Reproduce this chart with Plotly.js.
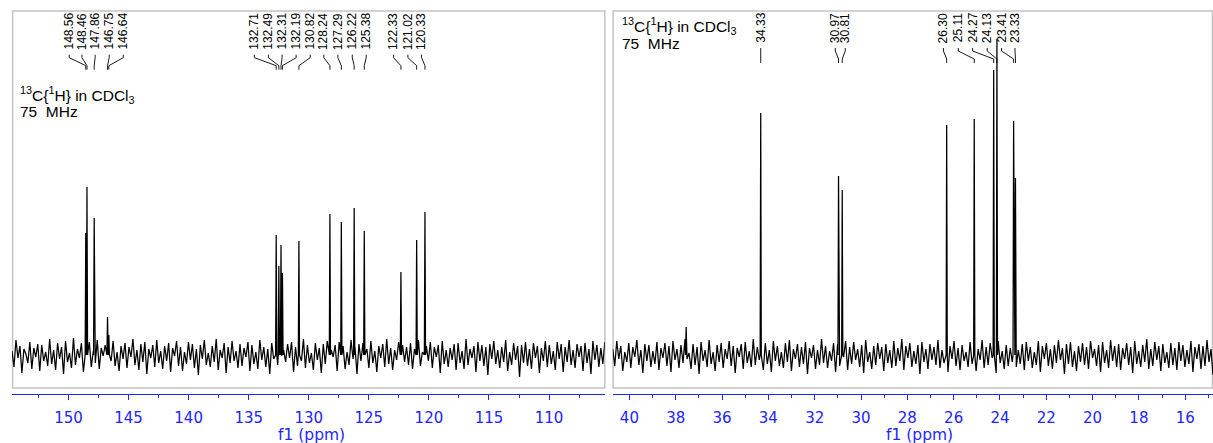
<!DOCTYPE html>
<html>
<head>
<meta charset="utf-8">
<script src="https://cdn.plot.ly/plotly-3.0.1.min.js"></script>
<style>
  html, body { margin: 0; padding: 0; background: #ffffff; }
  #chart { width: 1213px; height: 443px; }
</style>
</head>
<body>
<div id="chart"></div>
<script>
// ---------------- DATA ----------------
// Left panel (aromatic region), labelled peaks: chemical shift (ppm) and height
const LEFT_PPM    = [148.56, 148.46, 147.86, 146.75, 146.64, 132.71, 132.49, 132.31, 132.19, 130.82, 128.24, 127.29, 126.22, 125.38, 122.33, 121.02, 120.33];
const LEFT_HEIGHT = [122, 168, 137, 38, 20, 120, 89, 110, 82, 114, 141, 133, 147, 124, 83, 115, 143];

// Right panel (aliphatic region), labelled peaks
const RIGHT_PPM    = [34.33, 30.97, 30.81, 26.30, 25.11, 24.27, 24.13, 23.41, 23.33];
const RIGHT_HEIGHT = [242, 179, 165, 230, 236, 285, 316, 234, 177];

// Small unlabelled signal in the right panel
const RIGHT_EXTRA_PPM    = [37.55];
const RIGHT_EXTRA_HEIGHT = [28];

// Baseline noise (evenly spread across each panel)
const LEFT_NOISE = [
  4,-12,15,-3,9,-18,6,1,-8,13,-14,7,-2,11,-16,10,-6,3,-11,16,
  -9,5,-15,12,-4,8,-19,14,-7,2,-13,17,-10,6,-3,12,-17,9,-5,13,
  -12,4,-8,15,-14,7,-1,10,-18,11,-6,14,-11,3,-16,9,-4,12,-13,8,
  -2,16,-10,5,-15,11,-7,13,-19,6,-3,10,-12,15,-8,4,-14,9,-6,12,
  -17,7,-1,14,-11,8,-16,3,-9,13,-5,11,-13,6,-20,10,-4,15,-10,2,
  -12,9,-7,16,-15,5,-3,12,-18,8,-8,14,-6,4,-13,11,-11,7,-2,13,
  -16,10,-9,3,-14,15,-5,8,-12,6,-19,12,-4,9,-10,14,-15,5,-7,11,
  -3,13,-17,8,-11,4,-6,16,-13,10,-8,2,-15,12,-5,7,-18,11,-9,14,
  -12,5,-2,10,-16,13,-7,9,-14,3,-10,15,-4,8,-19,11,-6,12,-11,6,
  -13,14,-8,4,-17,9,-3,11,-12,16,-9,7,-15,5,-5,13,-21,10,-7,8,
  -10,12,-14,6,-4,15,-11,3,-16,9,-6,13,-13,8,-2,10,-18,14,-9,5,
  -12,7,-5,11,-15,12,-8,4,-14,16,-10,6,-3,9,-17,13,-6,10,-11,8,
  -20,11,-4,14,-9,5,-13,8,-7,15,-16,3,-10,12,-5,9,-22,10,-8,13,
  -11,6,-14,12,-3,9,-18,7,-6,14,-12,10,-9,4,-15,13,-4,11,-17,8,
  -7,15,-10,5,-13,11,-2,9,-16,12,-8,6,-19,14,-5,10,-12,7,-9,13
];
const RIGHT_NOISE = [
  6,-11,14,-4,9,-16,3,-7,12,-13,8,-2,15,-10,5,-18,11,-6,10,-12,
  4,-9,13,-15,7,-3,12,-11,9,-17,14,-5,6,-13,10,-8,16,-4,2,-14,
  11,-10,8,-19,13,-6,5,-12,15,-9,3,-16,10,-7,12,-13,6,-4,14,-11,
  9,-18,7,-2,11,-14,13,-8,4,-12,16,-10,8,-5,10,-15,12,-9,5,-17,
  14,-6,9,-11,3,-13,12,-7,15,-16,6,-4,11,-12,8,-9,13,-19,7,-3,
  10,-14,5,-10,16,-8,9,-13,4,-6,12,-17,11,-11,7,-2,14,-15,8,-9,
  13,-5,6,-12,10,-18,15,-7,3,-14,9,-10,12,-4,8,-16,11,-8,5,-13,
  14,-11,7,-6,16,-15,9,-3,12,-12,4,-9,10,-19,13,-7,6,-14,11,-5,
  8,-10,15,-13,5,-8,12,-17,9,-4,14,-11,7,-15,10,-6,3,-12,13,-9,
  11,-16,6,-5,15,-13,8,-10,12,-3,9,-18,14,-8,4,-14,10,-11,7,-7,
  16,-12,5,-9,11,-15,13,-6,8,-13,3,-10,14,-17,9,-4,12,-11,6,-14,
  10,-8,15,-5,7,-19,11,-9,13,-12,4,-16,9,-7,12,-10,8,-14,14,-3,
  6,-11,10,-17,13,-8,5,-13,15,-6,9,-12,11,-15,7,-4,12,-10,8,-18,
  14,-9,4,-12,10,-7,16,-14,6,-11,13,-5,9,-16,11,-8,3,-13,12,-10,
  7,-15,13,-6,10,-12,5,-9,14,-17,8,-4,11,-14,9,-11,15,-7,6,-20
];

// Tick / text content
const X_TITLE = 'f1 (ppm)';
const NUCLEUS_TEXT = '<sup>13</sup>C{<sup>1</sup>H} in CDCl<sub>3</sub>';
const FREQ_TEXT = '75  MHz';

// ---------------- LAYOUT CONSTANTS ----------------
const LEFT_RANGE  = [154.7, 105.36];
const RIGHT_RANGE = [40.72, 14.8];
// label anchor positions (ppm) for the multiplet labels at the top
const LEFT_LABEL_POS  = [149.94, 148.88, 147.78, 146.61, 145.44, 134.53, 133.36, 132.22, 131.05, 129.88, 128.75, 127.58, 126.38, 125.22, 122.94, 121.75, 120.61];
const RIGHT_LABEL_POS = [34.33, 31.11, 30.68, 26.44, 25.80, 25.18, 24.55, 23.93, 23.35];

const BLUE = '#2424ff';
const BASE_PX = 355;   // baseline pixel row; y axis is 1 unit per pixel

function buildSpectrum(range, noise, ppm, h, w) {
  const n = noise.length;
  const pts = [];
  for (let i = 0; i < n; i++) {
    const x = range[0] + (range[1] - range[0]) * i / (n - 1);
    let near = false;
    for (const p of ppm) { if (Math.abs(x - p) <= w * 1.2) { near = true; break; } }
    if (!near) pts.push([x, noise[i]]);
  }
  for (let k = 0; k < ppm.length; k++) {
    pts.push([ppm[k] + w, 0], [ppm[k], h[k]], [ppm[k] - w, 0]);
  }
  pts.sort((a, b) => b[0] - a[0]);
  return { x: pts.map(p => p[0]), y: pts.map(p => p[1]) };
}

const left = buildSpectrum(LEFT_RANGE, LEFT_NOISE, LEFT_PPM, LEFT_HEIGHT, 0.05);
const right = buildSpectrum(RIGHT_RANGE, RIGHT_NOISE,
  RIGHT_PPM.concat(RIGHT_EXTRA_PPM), RIGHT_HEIGHT.concat(RIGHT_EXTRA_HEIGHT), 0.025);

const traces = [
  { type: 'scatter', mode: 'lines', x: left.x, y: left.y, xaxis: 'x', yaxis: 'y',
    line: { color: '#000000', width: 1.25 }, hoverinfo: 'skip', showlegend: false },
  { type: 'scatter', mode: 'lines', x: right.x, y: right.y, xaxis: 'x2', yaxis: 'y',
    line: { color: '#000000', width: 1.25 }, hoverinfo: 'skip', showlegend: false }
];

const annotations = [];
const shapes = [];

function addLabels(ppm, labelPos, xref) {
  for (let k = 0; k < ppm.length; k++) {
    const txt = ppm[k].toFixed(2);
    const wpx = txt.replace('.', '').length * 6.67 + 3.33;
    const centerPx = 13 + wpx / 2;
    annotations.push({
      x: labelPos[k], xref: xref, y: BASE_PX - centerPx, yref: 'y',
      text: txt, textangle: -90, showarrow: false,
      xanchor: 'center', yanchor: 'middle', borderpad: 0,
      font: { family: 'Liberation Sans, Arial, sans-serif', size: 12, color: '#000000' }
    });
    const y0 = 13 + wpx + 5, y1 = y0 + 3, y2 = y1 + 8, y3 = y2 + 4;
    shapes.push({
      type: 'path', xref: xref, yref: 'y',
      path: `M ${labelPos[k]},${BASE_PX - y0} L ${labelPos[k]},${BASE_PX - y1} L ${ppm[k]},${BASE_PX - y2} L ${ppm[k]},${BASE_PX - y3}`,
      line: { color: '#000000', width: 0.9 }
    });
  }
}
addLabels(LEFT_PPM, LEFT_LABEL_POS, 'x');
addLabels(RIGHT_PPM, RIGHT_LABEL_POS, 'x2');

// panel frames (light grey boxes)
shapes.push({ type: 'rect', xref: 'paper', yref: 'paper', x0: 0.0005, x1: 0.4936, y0: 0.0157, y1: 1,
  line: { color: '#c4c4c4', width: 1.5 }, fillcolor: 'rgba(0,0,0,0)', layer: 'below' });
shapes.push({ type: 'rect', xref: 'paper', yref: 'paper', x0: 0.5005, x1: 0.9995, y0: 0.0157, y1: 1,
  line: { color: '#c4c4c4', width: 1.5 }, fillcolor: 'rgba(0,0,0,0)', layer: 'below' });

// sample / frequency text
const txtFont = { family: 'Liberation Sans, Arial, sans-serif', size: 15.5, color: '#000000' };
annotations.push({ x: 0.0052, y: 0.7815, xref: 'paper', yref: 'paper', xanchor: 'left', yanchor: 'middle',
  text: NUCLEUS_TEXT, showarrow: false, font: txtFont });
annotations.push({ x: 0.0052, y: 0.7381, xref: 'paper', yref: 'paper', xanchor: 'left', yanchor: 'middle',
  text: FREQ_TEXT, showarrow: false, font: txtFont });
annotations.push({ x: 0.506, y: 0.962, xref: 'paper', yref: 'paper', xanchor: 'left', yanchor: 'middle',
  text: NUCLEUS_TEXT, showarrow: false, font: txtFont });
annotations.push({ x: 0.506, y: 0.9157, xref: 'paper', yref: 'paper', xanchor: 'left', yanchor: 'middle',
  text: FREQ_TEXT, showarrow: false, font: txtFont });

// axis titles
const titleFont = { family: 'DejaVu Sans, Verdana, sans-serif', size: 15.5, color: BLUE };
annotations.push({ x: 0.2495, y: -0.108, xref: 'paper', yref: 'paper', xanchor: 'center', yanchor: 'middle',
  text: X_TITLE, showarrow: false, font: titleFont });
annotations.push({ x: 0.756, y: -0.108, xref: 'paper', yref: 'paper', xanchor: 'center', yanchor: 'middle',
  text: X_TITLE, showarrow: false, font: titleFont });

const axisCommon = {
  showgrid: false, zeroline: false, showline: true, linecolor: BLUE, linewidth: 1,
  ticks: 'outside', ticklen: 5, tickwidth: 1, tickcolor: BLUE,
  tickfont: { family: 'DejaVu Sans, Verdana, sans-serif', size: 15, color: BLUE },
  ticklabelstandoff: 5, fixedrange: true
};

const layout = {
  width: 1213, height: 443,
  margin: { l: 12, r: 0, t: 11, b: 49 },
  paper_bgcolor: '#ffffff', plot_bgcolor: '#ffffff',
  showlegend: false,
  xaxis: Object.assign({}, axisCommon, {
    domain: [0, 0.4936], range: LEFT_RANGE, anchor: 'y', tick0: 0, dtick: 5,
    minor: { dtick: 2.5, ticks: 'outside', ticklen: 3, tickcolor: BLUE, tickwidth: 1, showgrid: false }
  }),
  xaxis2: Object.assign({}, axisCommon, {
    domain: [0.5002, 1], range: RIGHT_RANGE, anchor: 'y', tick0: 0, dtick: 2,
    minor: { dtick: 1, ticks: 'outside', ticklen: 3, tickcolor: BLUE, tickwidth: 1, showgrid: false }
  }),
  yaxis: { visible: false, range: [-39, 344], fixedrange: true, domain: [0, 1] },
  annotations: annotations,
  shapes: shapes
};

Plotly.newPlot('chart', traces, layout, { staticPlot: true, displayModeBar: false });
</script>
</body>
</html>
